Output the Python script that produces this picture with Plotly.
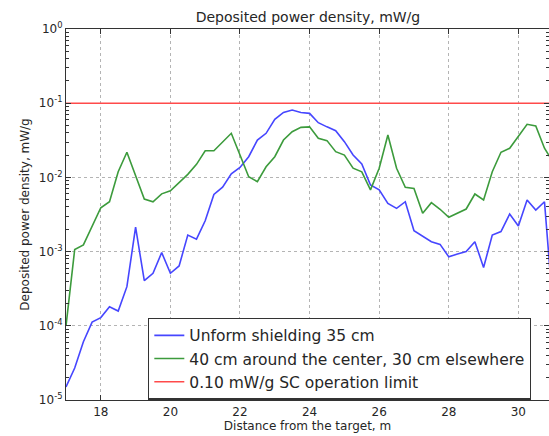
import plotly.graph_objects as go

distance_m = [17.0, 17.25, 17.5, 17.75, 18.0, 18.25, 18.5, 18.75, 19.0, 19.25, 19.5, 19.75,
              20.0, 20.25, 20.5, 20.75, 21.0, 21.25, 21.5, 21.75, 22.0, 22.25, 22.5, 22.75,
              23.0, 23.25, 23.5, 23.75, 24.0, 24.25, 24.5, 24.75, 25.0, 25.25, 25.5, 25.75,
              26.0, 26.25, 26.5, 26.75, 27.0, 27.25, 27.5, 27.75, 28.0, 28.25, 28.5, 28.75,
              29.0, 29.25, 29.5, 29.75, 30.0, 30.25, 30.5, 30.75, 31.0]

uniform_35cm = [1.5e-5, 2.7e-5, 6.1e-5, 1.12e-4, 1.29e-4, 1.81e-4, 1.58e-4, 3.37e-4, 2.13e-3, 4.05e-4,
                5.1e-4, 9.7e-4, 5.1e-4, 6.4e-4, 1.67e-3, 1.47e-3, 2.6e-3, 5.9e-3, 7.4e-3, 1.12e-2,
                1.36e-2, 1.9e-2, 3.19e-2, 3.93e-2, 6.07e-2, 7.5e-2, 8.1e-2, 7.5e-2, 7.3e-2, 5.46e-2,
                4.8e-2, 4.26e-2, 3.03e-2, 2.0e-2, 1.52e-2, 7.9e-3, 6.8e-3, 4.47e-3, 3.83e-3, 4.7e-3,
                1.91e-3, 1.59e-3, 1.36e-3, 1.25e-3, 8.5e-4, 9.3e-4, 1.0e-3, 1.36e-3, 6.1e-4, 1.67e-3,
                1.86e-3, 3.21e-3, 2.21e-3, 4.96e-3, 3.63e-3, 4.7e-3, 1.6e-4]

center40_else30 = [1.0e-4, 1.07e-3, 1.23e-3, 2.17e-3, 3.9e-3, 4.7e-3, 1.19e-2, 2.18e-2, 1.05e-2, 5.1e-3,
                   4.7e-3, 6.0e-3, 6.6e-3, 8.5e-3, 1.1e-2, 1.5e-2, 2.29e-2, 2.29e-2, 3.03e-2, 3.93e-2,
                   2.0e-2, 1.02e-2, 8.75e-3, 1.39e-2, 1.9e-2, 3.19e-2, 4.13e-2, 4.73e-2, 4.8e-2, 3.37e-2,
                   3.13e-2, 2.22e-2, 2.0e-2, 1.33e-2, 1.19e-2, 6.8e-3, 1.33e-2, 3.73e-2, 1.33e-2, 7.35e-3,
                   7.1e-3, 3.28e-3, 4.56e-3, 3.72e-3, 2.9e-3, 3.28e-3, 3.75e-3, 5.97e-3, 4.96e-3, 1.19e-2,
                   2.18e-2, 2.47e-2, 3.54e-2, 5.19e-2, 4.93e-2, 2.47e-2, 1.6e-2]

limit_value = 0.10
limit_x = [17.0, 31.0]

series_names = ["Unform shielding 35 cm",
                "40 cm around the center, 30 cm elsewhere",
                "0.10 mW/g SC operation limit"]

x_ticks = [18, 20, 22, 24, 26, 28, 30]
y_tick_vals = [1e-5, 1e-4, 1e-3, 1e-2, 1e-1, 1e0]
y_tick_text = ["10<sup>-5</sup>", "10<sup>-4</sup>", "10<sup>-3</sup>",
               "10<sup>-2</sup>", "10<sup>-1</sup>", "10<sup>0</sup>"]
minor_vals = [m * 10.0 ** e for e in range(-5, 0) for m in range(2, 10)]

FONT = "DejaVu Sans, Liberation Sans, sans-serif"
TXT = "#262626"

fig = go.Figure()
fig.add_trace(go.Scatter(x=distance_m, y=uniform_35cm, mode="lines", name=series_names[0],
                         line=dict(color="#4646ff", width=1.6)))
fig.add_trace(go.Scatter(x=distance_m, y=center40_else30, mode="lines", name=series_names[1],
                         line=dict(color="#3c9b3c", width=1.6)))
fig.add_trace(go.Scatter(x=limit_x, y=[limit_value, limit_value], mode="lines", name=series_names[2],
                         line=dict(color="#ff4a4a", width=1.6)))

axis_common = dict(showline=True, linecolor="#333333", linewidth=1.2, mirror="allticks",
                   ticks="inside", tickcolor="#333333", ticklen=5,
                   showgrid=True, gridcolor="#b4b4b4", griddash="dot", gridwidth=1,
                   zeroline=False, tickfont=dict(family=FONT, size=12, color=TXT))

fig.update_layout(
    width=549, height=436,
    margin=dict(l=66, r=0, t=29, b=36),
    paper_bgcolor="white", plot_bgcolor="white",
    font=dict(family=FONT, color=TXT),
    title=dict(text="Deposited power density, mW/g", x=0.561, xanchor="center",
               y=1 - 17 / 436, yanchor="middle", font=dict(family=FONT, size=14, color=TXT)),
    xaxis=dict(range=[17, 30.88], tickvals=x_ticks,
               title=dict(text="Distance from the target, m", standoff=4,
                          font=dict(family=FONT, size=12, color=TXT)),
               **axis_common),
    yaxis=dict(type="log", range=[-5, 0], tickvals=y_tick_vals, ticktext=y_tick_text,
               minor=dict(ticks="inside", ticklen=2.5, tickcolor="#333333", tickvals=minor_vals,
                          showgrid=False),
               title=dict(text="Deposited power density, mW/g", standoff=6,
                          font=dict(family=FONT, size=12, color=TXT)),
               **axis_common),
    showlegend=True,
    legend=dict(x=0.17, y=0.222, xanchor="left", yanchor="top",
                bgcolor="white", bordercolor="#333333", borderwidth=1.2,
                font=dict(family=FONT, size=15.5, color=TXT),
                itemwidth=30, tracegroupgap=0),
)

fig.write_html("out.html")
